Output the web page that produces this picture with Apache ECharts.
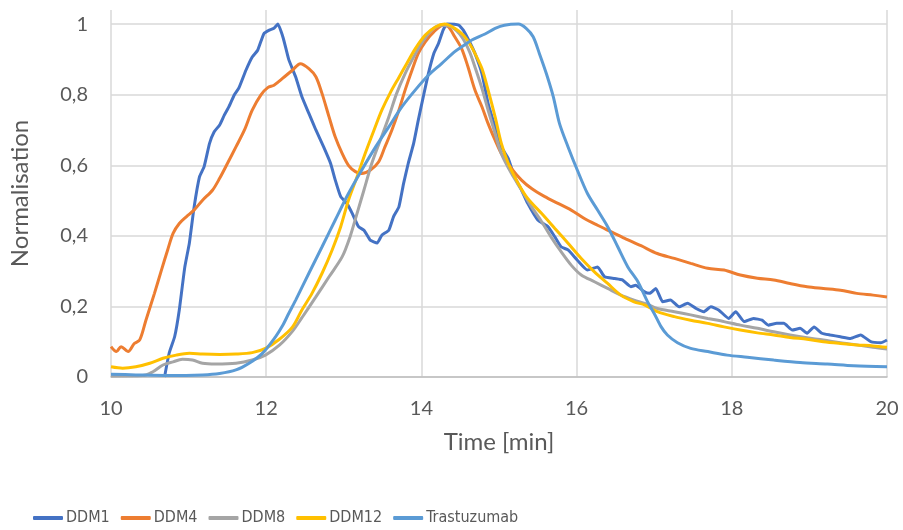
<!DOCTYPE html>
<html>
<head>
<meta charset="utf-8">
<script src="https://cdn.jsdelivr.net/npm/echarts@6/dist/echarts.min.js"></script>
<style>
  html, body { margin: 0; padding: 0; background: #fff; }
  #myChart0 { width: 903px; height: 530px; }
</style>
</head>
<body>
<div id="myChart0"></div>
<script>
// series names, in legend order
var seriesNames = ['DDM1', 'DDM4', 'DDM8', 'DDM12', 'Trastuzumab']
var seriesColors = ['#4472C4', '#ED7D31', '#A5A5A5', '#FFC000', '#5B9BD5']

// [time (min), normalised signal]
var ddm1 = [[10.69,0],[10.75,0.068],[10.82,0.114],[10.88,0.19],[10.95,0.31],[11.01,0.38],[11.07,0.48],[11.14,0.567],[11.20,0.596],[11.27,0.662],[11.33,0.695],[11.40,0.714],[11.46,0.742],[11.52,0.766],[11.59,0.80],[11.65,0.82],[11.74,0.87],[11.82,0.907],[11.89,0.926],[11.97,0.973],[12.04,0.983],[12.10,0.988],[12.15,1.0],[12.22,0.96],[12.29,0.90],[12.38,0.85],[12.46,0.794],[12.55,0.747],[12.64,0.70],[12.74,0.652],[12.83,0.605],[12.89,0.558],[12.96,0.511],[13.04,0.492],[13.11,0.463],[13.19,0.426],[13.26,0.416],[13.34,0.388],[13.43,0.38],[13.49,0.402],[13.58,0.416],[13.64,0.454],[13.71,0.482],[13.77,0.548],[13.83,0.605],[13.90,0.662],[13.96,0.728],[14.03,0.80],[14.09,0.86],[14.16,0.917],[14.22,0.945],[14.28,0.983],[14.33,1.0],[14.48,0.997],[14.54,0.983],[14.62,0.95],[14.69,0.917],[14.78,0.86],[14.86,0.775],[14.95,0.709],[15.03,0.652],[15.12,0.619],[15.20,0.567],[15.29,0.53],[15.37,0.492],[15.50,0.445],[15.63,0.426],[15.72,0.397],[15.80,0.369],[15.89,0.36],[16.01,0.331],[16.14,0.303],[16.27,0.312],[16.36,0.284],[16.49,0.279],[16.59,0.275],[16.70,0.256],[16.76,0.26],[16.87,0.242],[16.94,0.237],[17.02,0.251],[17.11,0.213],[17.21,0.218],[17.32,0.199],[17.43,0.209],[17.54,0.194],[17.64,0.185],[17.73,0.199],[17.83,0.19],[17.96,0.166],[18.05,0.185],[18.16,0.157],[18.28,0.166],[18.39,0.161],[18.47,0.147],[18.58,0.152],[18.67,0.152],[18.78,0.133],[18.88,0.138],[18.97,0.124],[19.06,0.142],[19.16,0.124],[19.27,0.119],[19.40,0.114],[19.53,0.109],[19.66,0.119],[19.79,0.10],[19.92,0.097],[20.0,0.105]]

var ddm4 = [[10,0.086],[10.07,0.072],[10.13,0.086],[10.22,0.072],[10.30,0.095],[10.37,0.105],[10.45,0.161],[10.56,0.237],[10.65,0.303],[10.73,0.36],[10.80,0.407],[10.88,0.435],[10.97,0.454],[11.07,0.473],[11.18,0.501],[11.31,0.53],[11.40,0.563],[11.50,0.605],[11.61,0.652],[11.72,0.70],[11.82,0.756],[11.93,0.799],[12.02,0.82],[12.10,0.827],[12.21,0.846],[12.34,0.87],[12.44,0.888],[12.55,0.874],[12.64,0.851],[12.72,0.803],[12.81,0.737],[12.89,0.68],[12.98,0.633],[13.06,0.60],[13.15,0.582],[13.23,0.577],[13.34,0.586],[13.45,0.61],[13.53,0.652],[13.62,0.70],[13.71,0.756],[13.79,0.813],[13.88,0.87],[13.96,0.917],[14.05,0.95],[14.16,0.978],[14.28,0.997],[14.35,0.992],[14.43,0.964],[14.52,0.93],[14.60,0.879],[14.69,0.813],[14.78,0.766],[14.86,0.718],[14.95,0.671],[15.03,0.633],[15.16,0.591],[15.29,0.558],[15.42,0.534],[15.59,0.511],[15.76,0.492],[15.93,0.473],[16.10,0.449],[16.27,0.43],[16.44,0.412],[16.62,0.393],[16.83,0.372],[17.04,0.35],[17.26,0.336],[17.47,0.322],[17.69,0.308],[17.90,0.303],[18.11,0.289],[18.33,0.28],[18.54,0.275],[18.75,0.265],[18.97,0.256],[19.18,0.251],[19.40,0.246],[19.61,0.237],[19.82,0.232],[20,0.227]]

var ddm8 = [[10,0.003],[10.41,0.004],[10.54,0.015],[10.67,0.034],[10.80,0.043],[10.92,0.05],[11.05,0.048],[11.18,0.039],[11.35,0.037],[11.61,0.039],[11.82,0.048],[11.99,0.062],[12.17,0.09],[12.34,0.13],[12.46,0.168],[12.64,0.227],[12.81,0.284],[12.98,0.341],[13.08,0.397],[13.17,0.463],[13.26,0.53],[13.36,0.605],[13.47,0.671],[13.58,0.737],[13.68,0.803],[13.79,0.86],[13.90,0.907],[14.0,0.945],[14.13,0.983],[14.26,0.997],[14.39,0.992],[14.52,0.964],[14.62,0.922],[14.70,0.872],[14.78,0.818],[14.86,0.756],[14.95,0.69],[15.03,0.633],[15.16,0.577],[15.29,0.53],[15.42,0.482],[15.55,0.44],[15.67,0.397],[15.80,0.355],[15.93,0.317],[16.06,0.289],[16.23,0.27],[16.40,0.251],[16.57,0.232],[16.74,0.218],[16.90,0.207],[17.04,0.194],[17.26,0.185],[17.47,0.176],[17.69,0.166],[17.90,0.157],[18.11,0.147],[18.33,0.138],[18.54,0.128],[18.75,0.119],[18.97,0.111],[19.18,0.105],[19.40,0.097],[19.61,0.091],[19.82,0.084],[20,0.079]]

var ddm12 = [[10,0.029],[10.15,0.025],[10.32,0.029],[10.50,0.039],[10.67,0.053],[10.84,0.062],[11.01,0.067],[11.18,0.065],[11.40,0.064],[11.61,0.065],[11.82,0.069],[11.99,0.081],[12.17,0.107],[12.34,0.142],[12.46,0.19],[12.59,0.237],[12.72,0.294],[12.85,0.36],[12.96,0.426],[13.06,0.501],[13.17,0.567],[13.28,0.636],[13.39,0.7],[13.49,0.756],[13.60,0.806],[13.71,0.849],[13.81,0.888],[13.92,0.93],[14.05,0.969],[14.18,0.992],[14.30,1.0],[14.43,0.988],[14.54,0.969],[14.62,0.945],[14.69,0.917],[14.78,0.874],[14.86,0.813],[14.95,0.737],[15.03,0.662],[15.12,0.605],[15.25,0.548],[15.37,0.506],[15.55,0.463],[15.72,0.421],[15.89,0.379],[16.06,0.336],[16.23,0.298],[16.40,0.265],[16.57,0.232],[16.74,0.213],[16.88,0.204],[17.04,0.185],[17.26,0.171],[17.47,0.161],[17.69,0.152],[17.90,0.142],[18.11,0.133],[18.33,0.125],[18.54,0.119],[18.75,0.112],[18.97,0.107],[19.18,0.10],[19.40,0.095],[19.61,0.091],[19.82,0.088],[20,0.084]]

var trastuzumab = [[10,0.008],[10.32,0.006],[10.75,0.004],[11.18,0.006],[11.40,0.01],[11.61,0.02],[11.78,0.039],[11.95,0.067],[12.12,0.114],[12.21,0.145],[12.29,0.18],[12.38,0.218],[12.55,0.294],[12.72,0.369],[12.89,0.445],[13.06,0.52],[13.23,0.586],[13.41,0.652],[13.58,0.709],[13.75,0.766],[13.92,0.813],[14.09,0.855],[14.26,0.888],[14.43,0.922],[14.55,0.94],[14.65,0.955],[14.82,0.972],[14.95,0.988],[15.07,0.997],[15.25,1.0],[15.35,0.988],[15.44,0.964],[15.52,0.917],[15.61,0.86],[15.70,0.794],[15.78,0.718],[15.89,0.652],[16.01,0.586],[16.14,0.52],[16.27,0.473],[16.40,0.426],[16.53,0.369],[16.66,0.312],[16.79,0.27],[16.91,0.215],[17.0,0.18],[17.09,0.142],[17.17,0.119],[17.30,0.097],[17.47,0.081],[17.69,0.072],[17.94,0.062],[18.20,0.056],[18.54,0.048],[18.88,0.041],[19.23,0.037],[19.57,0.032],[20,0.029]]

var allData = [ddm1, ddm4, ddm8, ddm12, trastuzumab]

var labelColor = '#595959'
var gridColor = '#d9d9d9'

var myChart = echarts.init(document.getElementById('myChart0'))

myChart.setOption({
    animation: false,
    textStyle: { fontFamily: 'Lato' },
    grid: { left: 108, right: 16, top: 10, bottom: 153 },
    legend: {
        left: 33,
        top: 510,
        padding: 0,
        itemWidth: 30,
        itemHeight: 4,
        itemGap: 11,
        icon: 'roundRect',
        textStyle: { fontFamily: '"DejaVu Sans Condensed", "Liberation Sans Narrow", Lato', fontSize: 16, color: labelColor, padding: [0, 0, 0, -2] },
        data: seriesNames
    },
    xAxis: {
        type: 'value',
        min: 10,
        max: 20,
        interval: 2,
        name: 'Time [min]',
        nameLocation: 'middle',
        nameGap: 53,
        nameTextStyle: { fontSize: 24, color: labelColor },
        axisLine: { show: true, lineStyle: { color: '#bfbfbf', width: 1.5 } },
        axisTick: { show: false },
        axisLabel: { fontSize: 20, color: labelColor, margin: 22 },
        splitLine: { show: true, lineStyle: { color: gridColor, width: 1.5 } }
    },
    yAxis: {
        type: 'value',
        min: 0,
        max: 1.04,
        interval: 0.2,
        name: 'Normalisation',
        nameLocation: 'middle',
        nameGap: 79,
        nameTextStyle: { fontSize: 24, color: labelColor },
        axisLine: { show: false },
        axisTick: { show: false },
        axisLabel: {
            fontSize: 20,
            color: labelColor,
            margin: 23,
            showMaxLabel: false,
            formatter: function (v) {
                if (v > 1.001) return ''
                return String(Math.round(v * 10) / 10).replace('.', ',')
            }
        },
        splitLine: { show: true, showMaxLine: false, lineStyle: { color: gridColor, width: 1.5 } }
    },
    series: seriesNames.map(function (name, i) {
        return {
            name: name,
            type: 'line',
            data: allData[i],
            symbol: 'none',
            smooth: i === 0 ? 0.15 : 0.3,
            color: seriesColors[i],
            lineStyle: { width: 3, color: seriesColors[i] }
        }
    })
})
</script>
</body>
</html>
